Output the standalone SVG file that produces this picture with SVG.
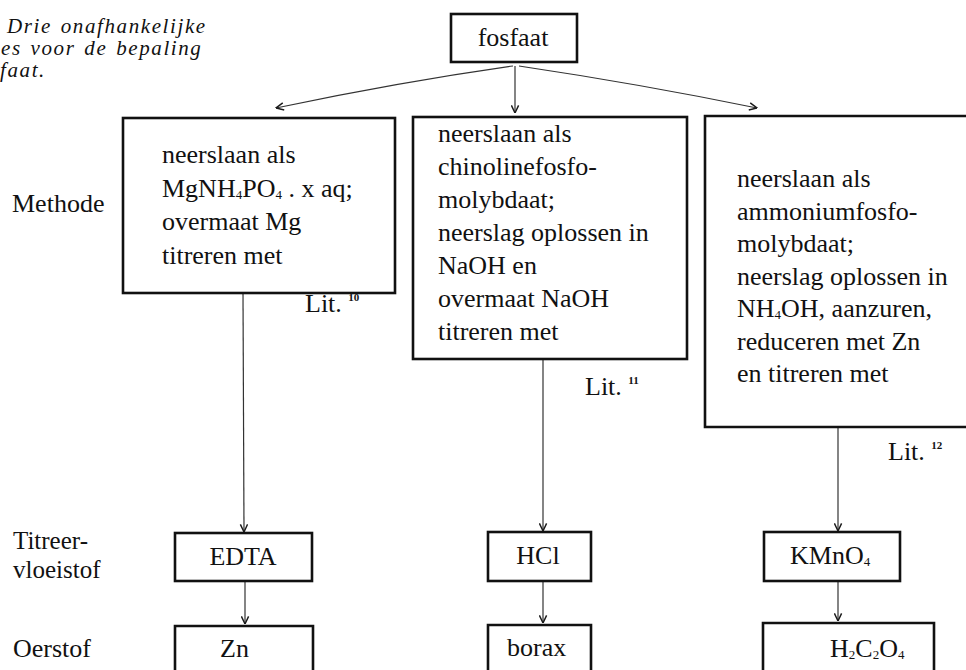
<svg xmlns="http://www.w3.org/2000/svg" width="966" height="670" viewBox="0 0 966 670">
<defs>
<marker id="ah" viewBox="0 0 10 10" refX="9.5" refY="5" markerWidth="9" markerHeight="9" markerUnits="userSpaceOnUse" orient="auto">
<path d="M1,1 L9.5,5 L1,9" fill="none" stroke="#1a1a1a" stroke-width="1.6"/>
</marker>
</defs>
<style>
.box{fill:none;stroke:#111;stroke-width:2.6}
.t{font-family:"Liberation Serif","Times New Roman",serif;font-size:26px;fill:#111}
.lab{font-size:25px}
.title{font-family:"Liberation Serif","Times New Roman",serif;font-size:21px;font-style:italic;letter-spacing:1.6px;word-spacing:2px;fill:#111}
.sub{font-size:13px}
.sup{font-size:11px;font-weight:bold}
.c{fill:none;stroke:#333;stroke-width:1.2}
</style>
<rect width="966" height="670" fill="#fff"/>

<g id="title">
<text class="title" x="7" y="33">Drie onafhankelijke</text>
<text class="title" x="1" y="55">es voor de bepaling</text>
<text class="title" x="0" y="77">faat.</text>
</g>

<g id="labels">
<text class="t" x="12" y="212">Methode</text>
<text class="t lab" x="13" y="549">Titreer-</text>
<text class="t lab" x="13" y="578">vloeistof</text>
<text class="t" x="13" y="657">Oerstof</text>
</g>

<g id="connectors">
<path class="c" d="M513,66 Q400,82 276,108" marker-end="url(#ah)"/>
<path class="c" d="M515,66 L515,113" marker-end="url(#ah)"/>
<path class="c" d="M519,66 Q640,84 757,108" marker-end="url(#ah)"/>
<path class="c" d="M243,294 L244,532" marker-end="url(#ah)"/>
<path class="c" d="M245,582 L245,624" marker-end="url(#ah)"/>
<path class="c" d="M543,360 L543,531" marker-end="url(#ah)"/>
<path class="c" d="M543,582 L543,623" marker-end="url(#ah)"/>
<path class="c" d="M838,428 L838,531" marker-end="url(#ah)"/>
<path class="c" d="M838,582 L838,621" marker-end="url(#ah)"/>
</g>

<g id="fosfaat">
<rect class="box" x="451" y="14" width="126" height="48"/>
<text class="t" x="513" y="46" text-anchor="middle">fosfaat</text>
</g>

<g id="methode1">
<rect class="box" x="123" y="118" width="272" height="175"/>
<text class="t" x="162" y="163">neerslaan als</text>
<text class="t" x="162" y="197">MgNH<tspan class="sub" dy="2">4</tspan><tspan dy="-2">PO</tspan><tspan class="sub" dy="2">4</tspan><tspan dy="-2"> . x aq;</tspan></text>
<text class="t" x="162" y="230">overmaat Mg</text>
<text class="t" x="162" y="264">titreren met</text>
</g>
<g id="lit10">
<text class="t" x="305" y="312">Lit. <tspan class="sup" dy="-11">10</tspan></text>
</g>

<g id="methode2">
<rect class="box" x="413" y="117" width="274" height="242"/>
<text class="t" x="438" y="142">neerslaan als</text>
<text class="t" x="438" y="175">chinolinefosfo-</text>
<text class="t" x="438" y="208">molybdaat;</text>
<text class="t" x="438" y="241">neerslag oplossen in</text>
<text class="t" x="438" y="274">NaOH en</text>
<text class="t" x="438" y="307">overmaat NaOH</text>
<text class="t" x="438" y="340">titreren met</text>
</g>
<g id="lit11">
<text class="t" x="585" y="395">Lit. <tspan class="sup" dy="-11">11</tspan></text>
</g>

<g id="methode3">
<path class="box" d="M980,116 H705 V427 H980"/>
<text class="t" x="737" y="187">neerslaan als</text>
<text class="t" x="737" y="220">ammoniumfosfo-</text>
<text class="t" x="737" y="252">molybdaat;</text>
<text class="t" x="737" y="285">neerslag oplossen in</text>
<text class="t" x="737" y="317">NH<tspan class="sub" dy="2">4</tspan><tspan dy="-2">OH, aanzuren,</tspan></text>
<text class="t" x="737" y="350">reduceren met Zn</text>
<text class="t" x="737" y="382">en titreren met</text>
</g>
<g id="lit12">
<text class="t" x="888" y="460">Lit. <tspan class="sup" dy="-11">12</tspan></text>
</g>

<g id="edta">
<rect class="box" x="175" y="533" width="137" height="48"/>
<text class="t" x="243" y="565" text-anchor="middle">EDTA</text>
</g>
<g id="zn">
<path class="box" d="M175,672 V626 H313 V672"/>
<text class="t" x="220" y="657">Zn</text>
</g>

<g id="hcl">
<rect class="box" x="488" y="532" width="103" height="49"/>
<text class="t" x="538" y="564" text-anchor="middle">HCl</text>
</g>
<g id="borax">
<path class="box" d="M488,672 V625 H591 V672"/>
<text class="t" x="507" y="656">borax</text>
</g>

<g id="kmno4">
<rect class="box" x="764" y="532" width="136" height="49"/>
<text class="t" x="790" y="564">KMnO<tspan class="sub" dy="2">4</tspan></text>
</g>
<g id="h2c2o4">
<path class="box" d="M763,672 V623 H934 V672"/>
<text class="t" x="830" y="657">H<tspan class="sub" dy="2">2</tspan><tspan dy="-2">C</tspan><tspan class="sub" dy="2">2</tspan><tspan dy="-2">O</tspan><tspan class="sub" dy="2">4</tspan></text>
</g>
</svg>
